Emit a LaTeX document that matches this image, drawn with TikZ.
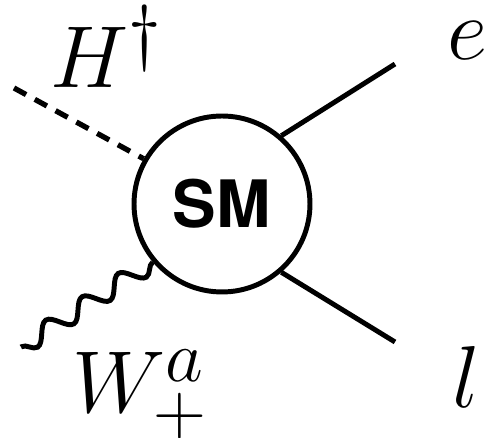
\documentclass[tikz,border=0pt]{standalone}
\usepackage{fix-cm}
\usepackage{fontspec}
\newfontfamily\blobfont{TeX Gyre Heros}
\usepackage{tikz}
\usetikzlibrary{decorations.pathmorphing}
\tikzset{
    blob/.style={draw, circle, line width=1.4pt, minimum size=49.8pt, inner sep=0pt, font=\blobfont\bfseries\fontsize{18.5}{20}\selectfont},
    scalarline/.style={line width=1.5pt, dash pattern=on 3.9pt off 2.8pt},
    gaugeline/.style={line width=1.4pt, decorate, decoration={snake, segment length=12.2pt, amplitude=2.6pt}},
    fermionline/.style={line width=1.4pt},
    leglabel/.style={inner sep=0pt, anchor=base west, font=\fontsize{24.88}{30}\selectfont}
}
\begin{document}
\begin{tikzpicture}[x=0.283pt, y=-0.283pt]
        \useasboundingbox (0,0) rectangle (487,438);
        \node[blob] (sm) at (222,204) {SM};
        \coordinate (hend) at (14,88);
        \coordinate (wend) at (21,347);
        \coordinate (eend) at (395,64);
        \coordinate (lend) at (395,342);
        \node[leglabel] (hlabel) at (50,88) {$H^\dagger$};
        \node[leglabel] (wlabel) at (72,413) {$W^a_+$};
        \node[leglabel] (elabel) at (447,60) {$e$};
        \node[leglabel] (llabel) at (452,408) {$l$};
        \draw[scalarline] (hend) -- (sm.150);
        \draw[gaugeline] (sm.220) -- (wend);
        \draw[fermionline] (sm.49) -- (eend);
        \draw[fermionline] (sm.-49) -- (lend);
    \end{tikzpicture}
\end{document}
